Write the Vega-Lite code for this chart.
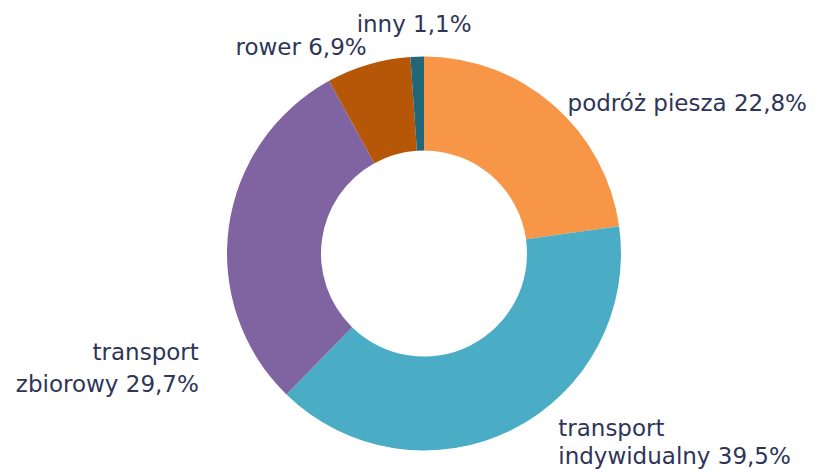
{
  "$schema": "https://vega.github.io/schema/vega-lite/v6.json",
  "width": 812,
  "height": 439,
  "autosize": {"type": "none"},
  "padding": {"left": 18, "top": 34, "right": 0, "bottom": 0},
  "background": "white",
  "view": {"stroke": null},
  "config": {"text": {"font": "DejaVu Sans", "fontSize": 23, "color": "#2E3558", "lineBreak": "\n"}},
  "data": {"values": [
    {"kategoria": "podróż piesza", "udzial": 22.8, "etykieta": "podróż piesza 22,8%", "kolejnosc": 1},
    {"kategoria": "transport indywidualny", "udzial": 39.5, "etykieta": "transport\nindywidualny 39,5%", "kolejnosc": 2},
    {"kategoria": "transport zbiorowy", "udzial": 29.7, "etykieta": "transport\nzbiorowy 29,7%", "kolejnosc": 3},
    {"kategoria": "rower", "udzial": 6.9, "etykieta": "rower 6,9%", "kolejnosc": 4},
    {"kategoria": "inny", "udzial": 1.1, "etykieta": "inny 1,1%", "kolejnosc": 5}
  ]},
  "encoding": {
    "theta": {"field": "udzial", "type": "quantitative", "stack": true},
    "order": {"field": "kolejnosc", "type": "quantitative"}
  },
  "layer": [
    {
      "mark": {"type": "arc", "outerRadius": 197, "innerRadius": 103},
      "encoding": {
        "color": {
          "field": "kategoria", "type": "nominal", "legend": null,
          "scale": {
            "domain": ["podróż piesza", "transport indywidualny", "transport zbiorowy", "rower", "inny"],
            "range": ["#F79646", "#4BACC6", "#8064A2", "#B65708", "#216778"]
          }
        }
      }
    },
    {
      "mark": {"type": "text", "radius": 205, "align": "left", "baseline": "middle", "dx": 9, "dy": 5},
      "encoding": {"text": {"condition": {"test": "datum.kolejnosc == 1", "field": "etykieta"}, "value": ""}}
    },
    {
      "mark": {"type": "text", "radius": 200, "align": "left", "baseline": "middle", "dx": 44, "dy": -3, "lineHeight": 28},
      "encoding": {"text": {"condition": {"test": "datum.kolejnosc == 2", "field": "etykieta"}, "value": ""}}
    },
    {
      "mark": {"type": "text", "radius": 200, "align": "right", "baseline": "middle", "dx": -27, "dy": 126, "lineHeight": 32},
      "encoding": {"text": {"condition": {"test": "datum.kolejnosc == 3", "field": "etykieta"}, "value": ""}}
    },
    {
      "mark": {"type": "text", "radius": 214, "align": "right", "baseline": "middle", "dx": 3, "dy": 0},
      "encoding": {"text": {"condition": {"test": "datum.kolejnosc == 4", "field": "etykieta"}, "value": ""}}
    },
    {
      "mark": {"type": "text", "radius": 229, "align": "center", "baseline": "middle", "dx": -2, "dy": 0},
      "encoding": {"text": {"condition": {"test": "datum.kolejnosc == 5", "field": "etykieta"}, "value": ""}}
    }
  ]
}
